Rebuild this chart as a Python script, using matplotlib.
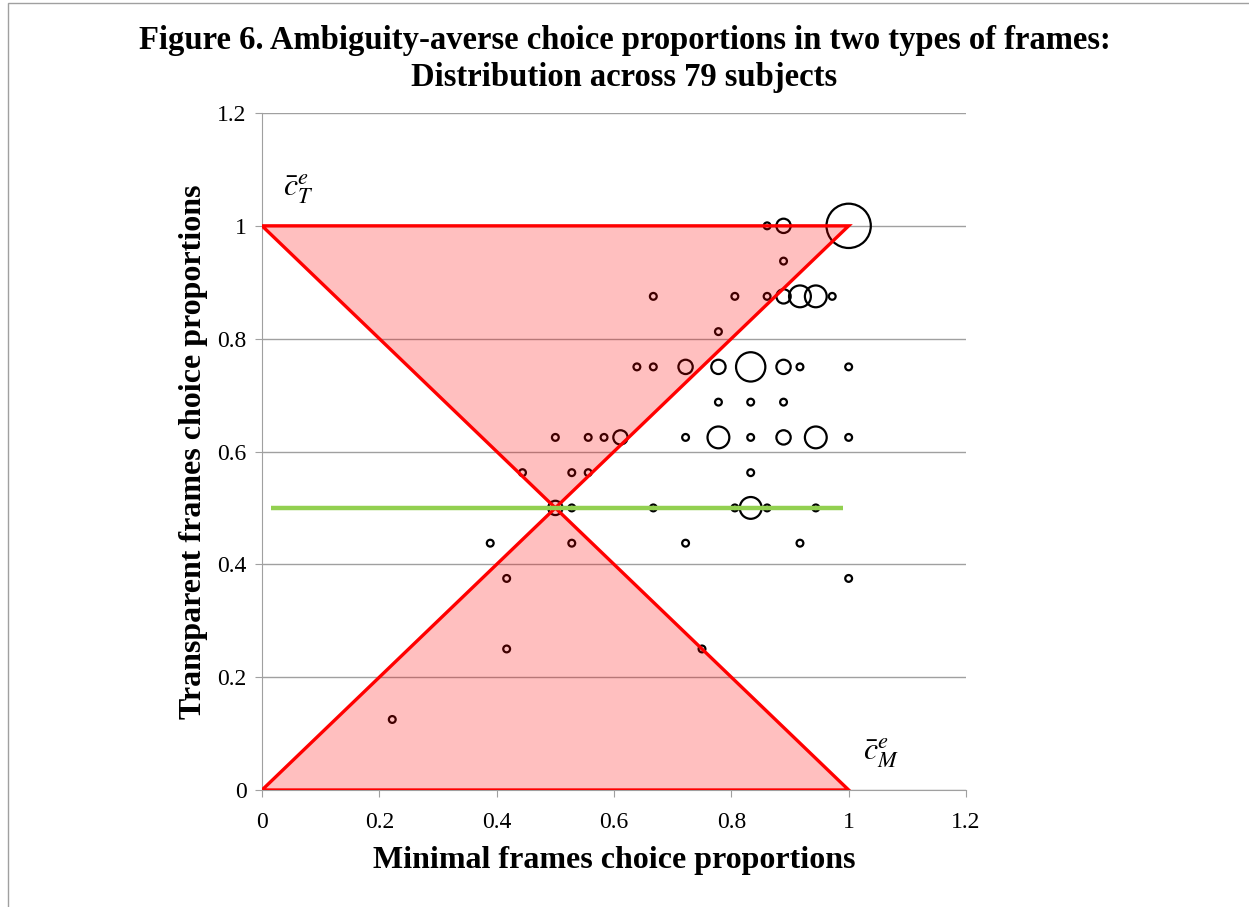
import matplotlib.pyplot as plt
from matplotlib.patches import Polygon, Rectangle
from matplotlib.ticker import FuncFormatter
import numpy as np

# bubble data: minimal-frame proportion, transparent-frame proportion, number of subjects
minimal = [0.861, 0.889, 1.0,
           0.889,
           0.667, 0.806, 0.861, 0.889, 0.917, 0.944, 0.972,
           0.778,
           0.639, 0.667, 0.722, 0.778, 0.833, 0.889, 0.917, 1.0,
           0.778, 0.833, 0.889,
           0.5, 0.556, 0.583, 0.611, 0.722, 0.778, 0.833, 0.889, 0.944, 1.0,
           0.444, 0.528, 0.556, 0.833,
           0.5, 0.528, 0.667, 0.806, 0.833, 0.861, 0.944,
           0.389, 0.528, 0.722, 0.917,
           0.417, 1.0,
           0.417, 0.75,
           0.222]
transparent = [1.0, 1.0, 1.0,
               0.9375,
               0.875, 0.875, 0.875, 0.875, 0.875, 0.875, 0.875,
               0.8125,
               0.75, 0.75, 0.75, 0.75, 0.75, 0.75, 0.75, 0.75,
               0.6875, 0.6875, 0.6875,
               0.625, 0.625, 0.625, 0.625, 0.625, 0.625, 0.625, 0.625, 0.625, 0.625,
               0.5625, 0.5625, 0.5625, 0.5625,
               0.5, 0.5, 0.5, 0.5, 0.5, 0.5, 0.5,
               0.4375, 0.4375, 0.4375, 0.4375,
               0.375, 0.375,
               0.25, 0.25,
               0.125]
subjects = [1, 2, 6,
            1,
            1, 1, 1, 2, 3, 3, 1,
            1,
            1, 1, 2, 2, 4, 2, 1, 1,
            1, 1, 1,
            1, 1, 1, 2, 1, 3, 1, 2, 3, 1,
            1, 1, 1, 1,
            2, 1, 1, 1, 3, 1, 1,
            1, 1, 1, 1,
            1, 1,
            1, 1,
            1]

upper_tri = [(0, 1), (1, 1), (0.5, 0.5)]
lower_tri = [(0, 0), (1, 0), (0.5, 0.5)]
neutral_x = [0.015, 0.99]
neutral_y = [0.5, 0.5]

plt.rcParams['font.family'] = ['Liberation Serif', 'DejaVu Serif']
plt.rcParams['mathtext.fontset'] = 'stix'

fig = plt.figure(figsize=(12.49, 9.07), dpi=100)
fig.patches.append(Rectangle((8 / 1249, -0.01), 1.0, 1.0 - 3 / 907 + 0.01,
                             transform=fig.transFigure, fill=False,
                             edgecolor='#a0a0a0', linewidth=1.0))
ax = fig.add_axes([0.2098, 0.129, 0.5636, 0.7464])

sizes = [(5.4 * n - 0.5) ** 2 for n in subjects]
ax.scatter(minimal, transparent, s=sizes, facecolors='none', edgecolors='black',
           linewidths=1.6, zorder=3)

for tri in (upper_tri, lower_tri):
    ax.add_patch(Polygon(tri, closed=True, facecolor='red', alpha=0.25,
                         edgecolor='none', zorder=4))
    ax.add_patch(Polygon(tri, closed=True, fill=False, edgecolor='#ff0000',
                         linewidth=2.4, zorder=5, joinstyle='miter'))

ax.plot(neutral_x, neutral_y, color='#92d050', linewidth=3.2, zorder=6,
        solid_capstyle='butt')

ax.text(0.035, 1.065, r'$\bar{c}_T^e$', fontsize=23, ha='left', va='center')
ax.text(1.025, 0.065, r'$\bar{c}_M^e$', fontsize=23, ha='left', va='center')

ax.set_xlim(0, 1.2)
ax.set_ylim(0, 1.2)
ax.set_xticks(np.arange(0, 1.21, 0.2))
ax.set_yticks(np.arange(0, 1.21, 0.2))
fmt = FuncFormatter(lambda v, p: ('%.1f' % v).rstrip('0').rstrip('.') if v else '0')
ax.xaxis.set_major_formatter(fmt)
ax.yaxis.set_major_formatter(fmt)
ax.tick_params(labelsize=17, length=5, color='#a0a0a0', direction='out', pad=6)
ax.tick_params(axis='x', pad=11)
ax.yaxis.grid(True, color='#a0a0a0', linewidth=1.0)
ax.set_axisbelow(True)
for side in ('top', 'right'):
    ax.spines[side].set_visible(False)
for side in ('left', 'bottom'):
    ax.spines[side].set_color('#a0a0a0')

ax.set_xlabel('Minimal frames choice proportions', fontsize=23, fontweight='bold', labelpad=9)
ax.set_ylabel('Transparent frames choice proportions', fontsize=23, fontweight='bold', labelpad=7)
fig.suptitle('Figure 6. Ambiguity-averse choice proportions in two types of frames:\n'
             'Distribution across 79 subjects', fontsize=23.5, fontweight='bold',
             x=0.5, y=0.972, linespacing=1.25)

fig.savefig('out.png', dpi=100)
